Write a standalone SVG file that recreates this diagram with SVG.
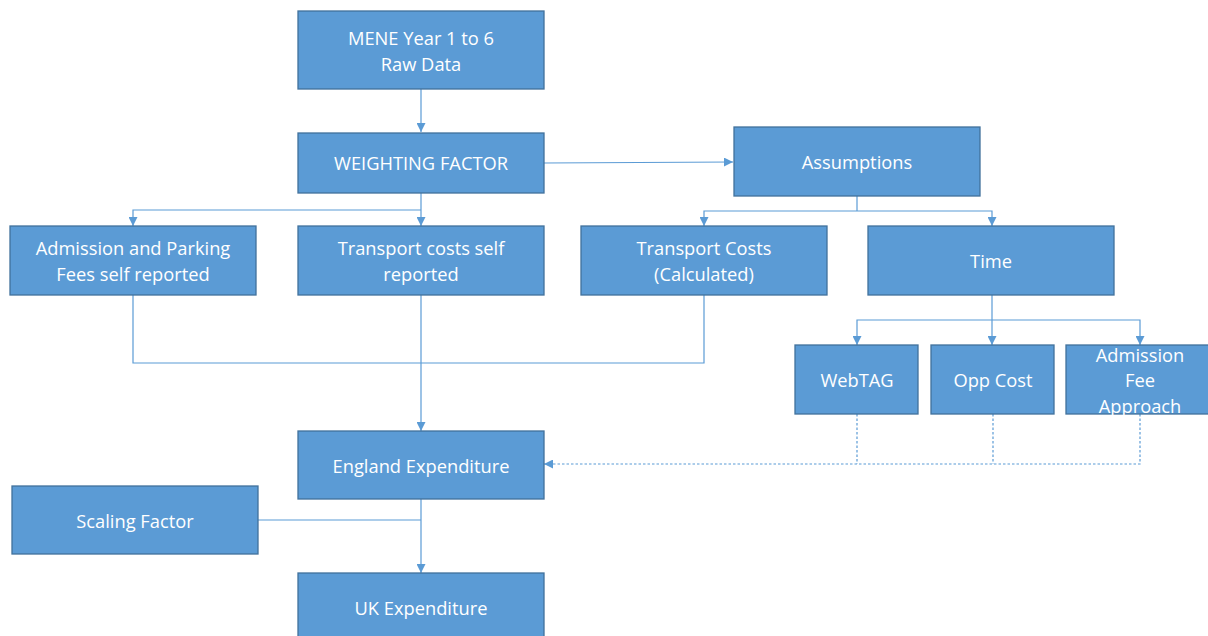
<svg xmlns="http://www.w3.org/2000/svg" width="1208" height="636" viewBox="0 0 1208 636">
<style>
.box{fill:#5B9BD5;stroke:#41719C;stroke-width:1.3}
.t{fill:#fff;font-family:"Open Sans","Liberation Sans",sans-serif;font-size:18.3px;text-anchor:middle}
.c{fill:none;stroke:#5B9BD5;stroke-width:1.2}
.d{fill:none;stroke:#5B9BD5;stroke-width:1.2;stroke-dasharray:2.5 2}
</style>
<defs>
<marker id="a" viewBox="0 0 10 10" refX="10" refY="5" markerWidth="9" markerHeight="9" markerUnits="userSpaceOnUse" orient="auto"><path d="M0,0L10,5L0,10z" fill="#5B9BD5"/></marker>
</defs>
<rect width="1208" height="636" fill="#fff"/>
<g id="connectors">
<path class="c" d="M421,89V132" marker-end="url(#a)"/>
<path class="c" d="M544,163L733,162" marker-end="url(#a)"/>
<path class="c" d="M857,196V211"/>
<path class="c" d="M857,211H704V226" marker-end="url(#a)"/>
<path class="c" d="M857,211H992V226" marker-end="url(#a)"/>
<path class="c" d="M421,193V210"/>
<path class="c" d="M421,210H133V226" marker-end="url(#a)"/>
<path class="c" d="M421,210V226" marker-end="url(#a)"/>
<path class="c" d="M133,295V363H704V295"/>
<path class="c" d="M421,295V431" marker-end="url(#a)"/>
<path class="c" d="M992,295V320"/>
<path class="c" d="M992,320H857V345" marker-end="url(#a)"/>
<path class="c" d="M992,320V345" marker-end="url(#a)"/>
<path class="c" d="M992,320H1140V345" marker-end="url(#a)"/>
<path class="d" d="M857,414V464"/>
<path class="d" d="M993,414V464"/>
<path class="d" d="M1140,414V464H544" marker-end="url(#a)"/>
<path class="c" d="M421,499V573" marker-end="url(#a)"/>
<path class="c" d="M258,520H421"/>
</g>
<g id="mene"><rect class="box" x="298" y="11" width="246" height="78"/><text class="t" x="421" y="45">MENE Year 1 to 6</text><text class="t" x="421" y="71">Raw Data</text></g>
<g id="weighting"><rect class="box" x="298" y="133" width="246" height="60"/><text class="t" x="421" y="170">WEIGHTING FACTOR</text></g>
<g id="assumptions"><rect class="box" x="734" y="127" width="246" height="69"/><text class="t" x="857" y="169">Assumptions</text></g>
<g id="admission"><rect class="box" x="10" y="226" width="246" height="69"/><text class="t" x="133" y="255">Admission and Parking</text><text class="t" x="133" y="281">Fees self reported</text></g>
<g id="transport-self"><rect class="box" x="298" y="226" width="246" height="69"/><text class="t" x="421" y="255">Transport costs self</text><text class="t" x="421" y="281">reported</text></g>
<g id="transport-calc"><rect class="box" x="581" y="226" width="246" height="69"/><text class="t" x="704" y="255">Transport Costs</text><text class="t" x="704" y="281">(Calculated)</text></g>
<g id="time"><rect class="box" x="868" y="226" width="246" height="69"/><text class="t" x="991" y="268">Time</text></g>
<g id="webtag"><rect class="box" x="795" y="345" width="123" height="69"/><text class="t" x="857" y="387">WebTAG</text></g>
<g id="oppcost"><rect class="box" x="931" y="345" width="123" height="69"/><text class="t" x="993" y="387">Opp Cost</text></g>
<g id="admfee"><rect class="box" x="1066" y="345" width="145" height="69"/><text class="t" x="1140" y="362">Admission</text><text class="t" x="1140" y="387">Fee</text><text class="t" x="1140" y="413">Approach</text></g>
<g id="england"><rect class="box" x="298" y="431" width="246" height="68"/><text class="t" x="421" y="473">England Expenditure</text></g>
<g id="scaling"><rect class="box" x="12" y="486" width="246" height="68"/><text class="t" x="135" y="528">Scaling Factor</text></g>
<g id="uk"><rect class="box" x="298" y="573" width="246" height="70"/><text class="t" x="421" y="615">UK Expenditure</text></g>
</svg>
